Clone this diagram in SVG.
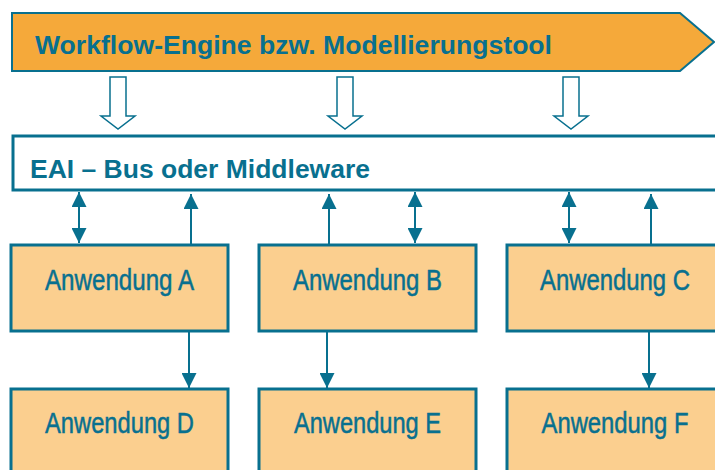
<svg xmlns="http://www.w3.org/2000/svg" width="715" height="470" viewBox="0 0 715 470">
  <style>
    .banner { fill: #F5A93A; stroke: #08708F; stroke-width: 2; }
    .bus { fill: #FFFFFF; stroke: #08708F; stroke-width: 3; }
    .app { fill: #FBCF8F; stroke: #08708F; stroke-width: 3; }
    .hollow { fill: #FFFFFF; stroke: #08708F; stroke-width: 1.5; }
    .head { font-family: "Liberation Sans", Arial, sans-serif; font-weight: bold; font-size: 26.5px; fill: #08708F; }
    .label { font-family: "Liberation Sans Narrow", "Liberation Sans", Arial, sans-serif; font-size: 29px; fill: #08708F; stroke: #08708F; stroke-width: 0.5; text-anchor: middle; }
    .conn { stroke: #08708F; stroke-width: 2; fill: none; }
  </style>
  <defs>
    <marker id="tip" markerUnits="userSpaceOnUse" markerWidth="15" markerHeight="15" refX="15" refY="7.5" orient="auto-start-reverse" viewBox="0 0 15 15">
      <path d="M0,0 L15,7.5 L0,15 z" fill="#08708F"/>
    </marker>
  </defs>

  <g id="workflow-engine">
    <polygon class="banner" points="12,13 680,13 714,42 680,71 12,71"/>
    <text class="head" x="35" y="54" textLength="517" lengthAdjust="spacingAndGlyphs">Workflow-Engine bzw. Modellierungstool</text>
  </g>

  <g id="flow-arrows">
    <polygon class="hollow" points="110,77 126,77 126,116 135,116 118,129 101,116 110,116"/>
    <polygon class="hollow" points="337,77 353,77 353,116 362,116 345,129 328,116 337,116"/>
    <polygon class="hollow" points="563,77 579,77 579,116 588,116 571,129 554,116 563,116"/>
  </g>

  <g id="eai-bus">
    <rect class="bus" x="13" y="136" width="710" height="54"/>
    <text class="head" x="30" y="178" textLength="340" lengthAdjust="spacingAndGlyphs">EAI – Bus oder Middleware</text>
  </g>

  <g id="app-a">
    <rect class="app" x="11" y="245" width="217" height="86"/>
    <text class="label" x="119.5" y="290" textLength="149" lengthAdjust="spacingAndGlyphs">Anwendung A</text>
  </g>
  <g id="app-b">
    <rect class="app" x="259" y="245" width="217" height="86"/>
    <text class="label" x="367.5" y="290" textLength="149" lengthAdjust="spacingAndGlyphs">Anwendung B</text>
  </g>
  <g id="app-c">
    <rect class="app" x="507" y="245" width="217" height="86"/>
    <text class="label" x="615" y="290" textLength="150" lengthAdjust="spacingAndGlyphs">Anwendung C</text>
  </g>
  <g id="app-d">
    <rect class="app" x="11" y="389" width="217" height="90"/>
    <text class="label" x="119.5" y="433" textLength="149" lengthAdjust="spacingAndGlyphs">Anwendung D</text>
  </g>
  <g id="app-e">
    <rect class="app" x="259" y="389" width="217" height="90"/>
    <text class="label" x="367.5" y="433" textLength="147" lengthAdjust="spacingAndGlyphs">Anwendung E</text>
  </g>
  <g id="app-f">
    <rect class="app" x="507" y="389" width="217" height="90"/>
    <text class="label" x="615" y="433" textLength="147" lengthAdjust="spacingAndGlyphs">Anwendung F</text>
  </g>

  <g id="connectors">
    <!-- bus <-> applications -->
    <line class="conn" x1="79" y1="192" x2="79" y2="243" marker-start="url(#tip)" marker-end="url(#tip)"/>
    <line class="conn" x1="191" y1="245" x2="191" y2="194" marker-end="url(#tip)"/>
    <line class="conn" x1="329" y1="245" x2="329" y2="194" marker-end="url(#tip)"/>
    <line class="conn" x1="415" y1="192" x2="415" y2="243" marker-start="url(#tip)" marker-end="url(#tip)"/>
    <line class="conn" x1="569" y1="192" x2="569" y2="243" marker-start="url(#tip)" marker-end="url(#tip)"/>
    <line class="conn" x1="651" y1="245" x2="651" y2="194" marker-end="url(#tip)"/>
    <!-- application -> application -->
    <line class="conn" x1="189" y1="332" x2="189" y2="388" marker-end="url(#tip)"/>
    <line class="conn" x1="327" y1="332" x2="327" y2="388" marker-end="url(#tip)"/>
    <line class="conn" x1="649" y1="332" x2="649" y2="388" marker-end="url(#tip)"/>
  </g>
</svg>
